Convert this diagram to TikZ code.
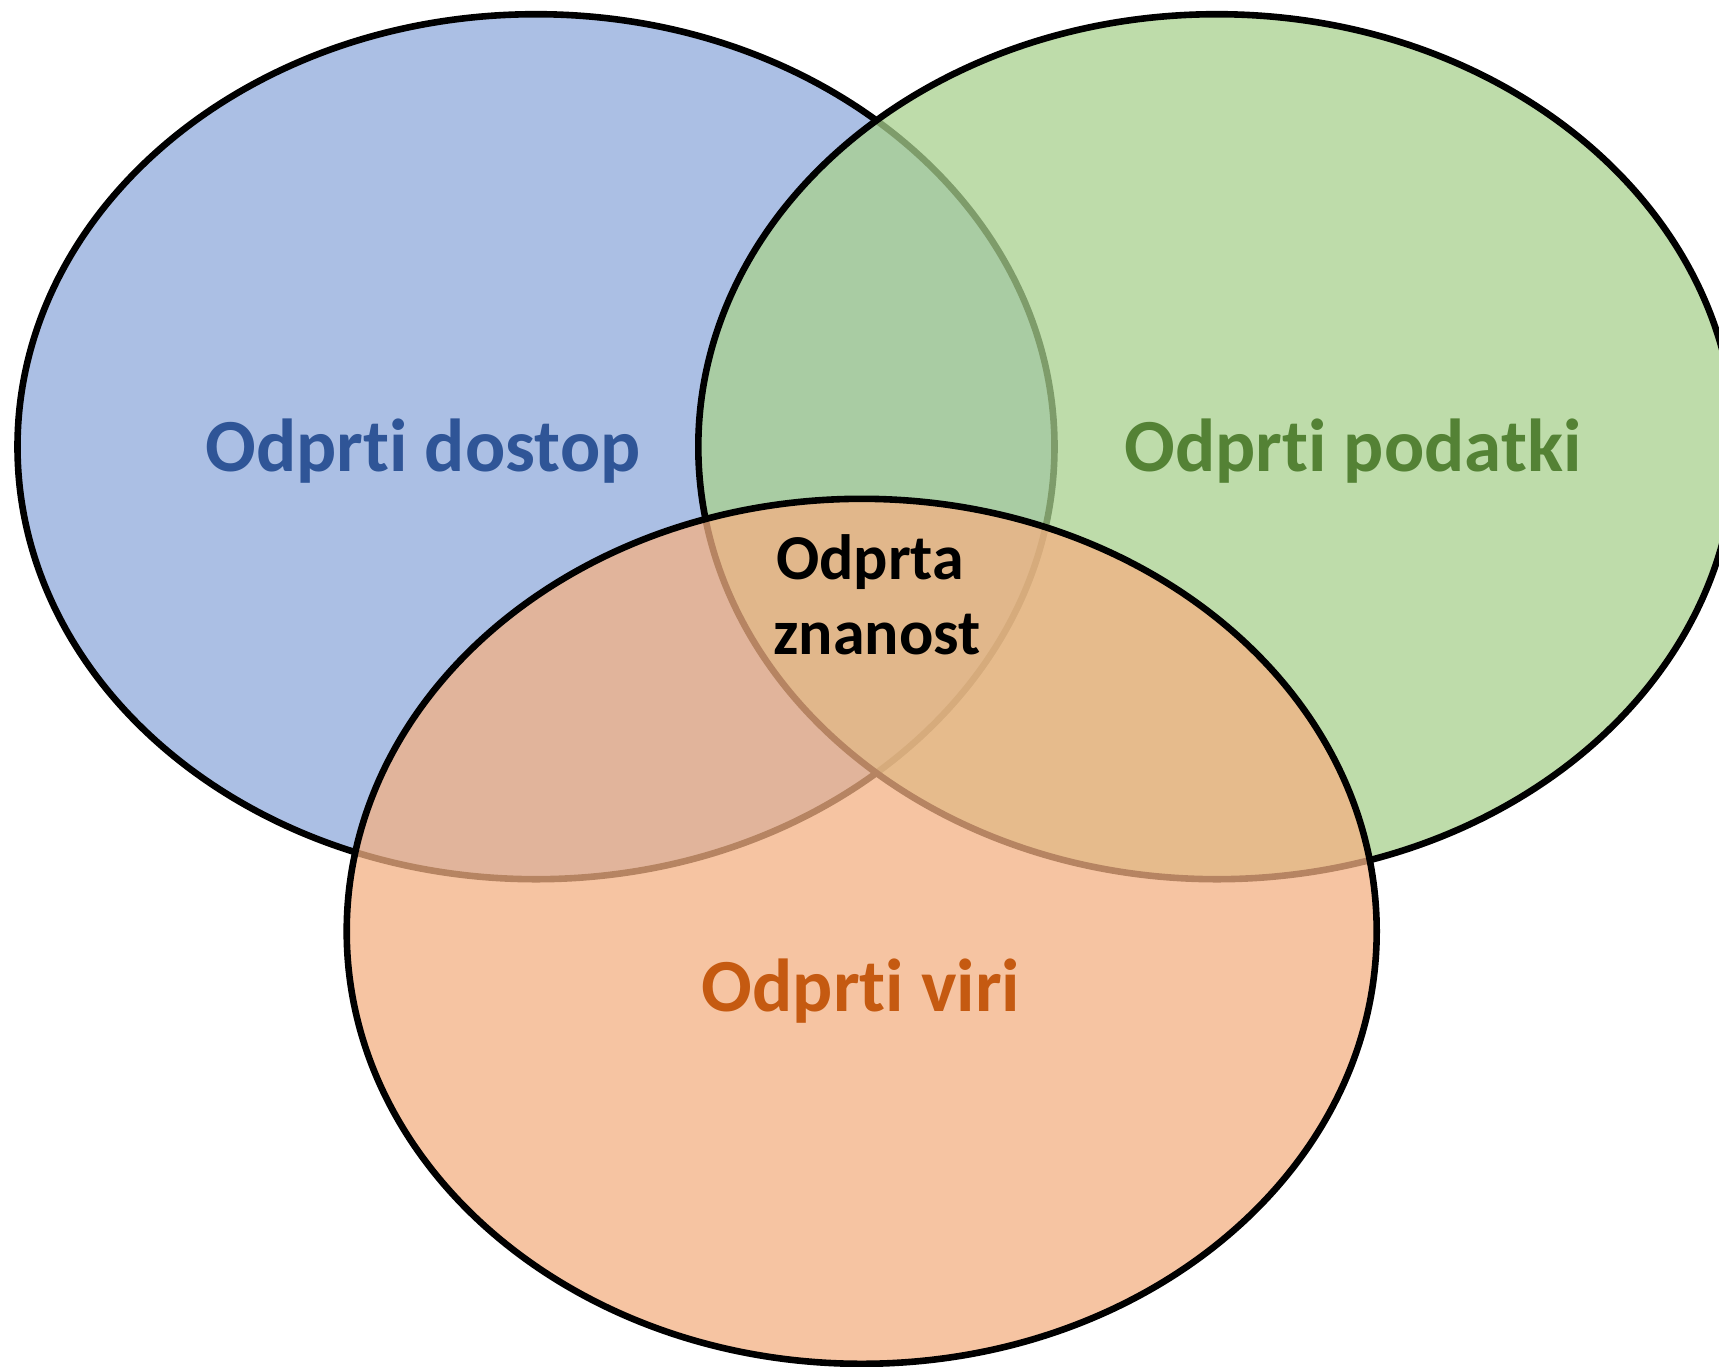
\documentclass[tikz,border=0pt]{standalone}
\usepackage{fontspec}
\setmainfont{Carlito}[Ligatures={NoCommon}]
\definecolor{fblue}{HTML}{8FAADC}
\definecolor{fgreen}{HTML}{A9D18E}
\definecolor{forange}{HTML}{F4B183}
\definecolor{tblue}{HTML}{2F5597}
\definecolor{tgreen}{HTML}{548235}
\definecolor{torange}{HTML}{C55A11}
\tikzset{
  venn/.style={draw=black, line width=3.3pt, fill opacity=0.75},
  biglabel/.style={font=\fontsize{37.5}{45}\selectfont\bfseries, anchor=base, inner sep=0pt},
  midlabel/.style={font=\fontsize{32}{34}\selectfont\bfseries, align=center, anchor=base, inner sep=0pt, text=black}
}
\begin{document}
\begin{tikzpicture}[x=0.5pt,y=-0.5pt]
\useasboundingbox (0,0) rectangle (1719,1366);
\clip (0,0) rectangle (1719,1366);
\fill[white] (0,0) rectangle (1719,1366);
\path[venn, fill=fblue] (536,446.7) ellipse [x radius=518.5, y radius=432.5];
\path[venn, fill=fgreen] (1216.8,446.7) ellipse [x radius=518.5, y radius=432.5];
\path[venn, fill=forange] (861.7,931.3) ellipse [x radius=515, y radius=432.5];
\node[biglabel, text=tblue] (dostop) at (423,471) {Odprti dostop};
\node[biglabel, text=tgreen] (podatki) at (1353,471) {Odprti podatki};
\node[biglabel, text=torange] (viri) at (861,1011) {Odprti viri};
\node[midlabel] (l1) at (870,579) {Odprta};
\node[midlabel] (l2) at (877,654) {znanost};
\end{tikzpicture}
\end{document}
